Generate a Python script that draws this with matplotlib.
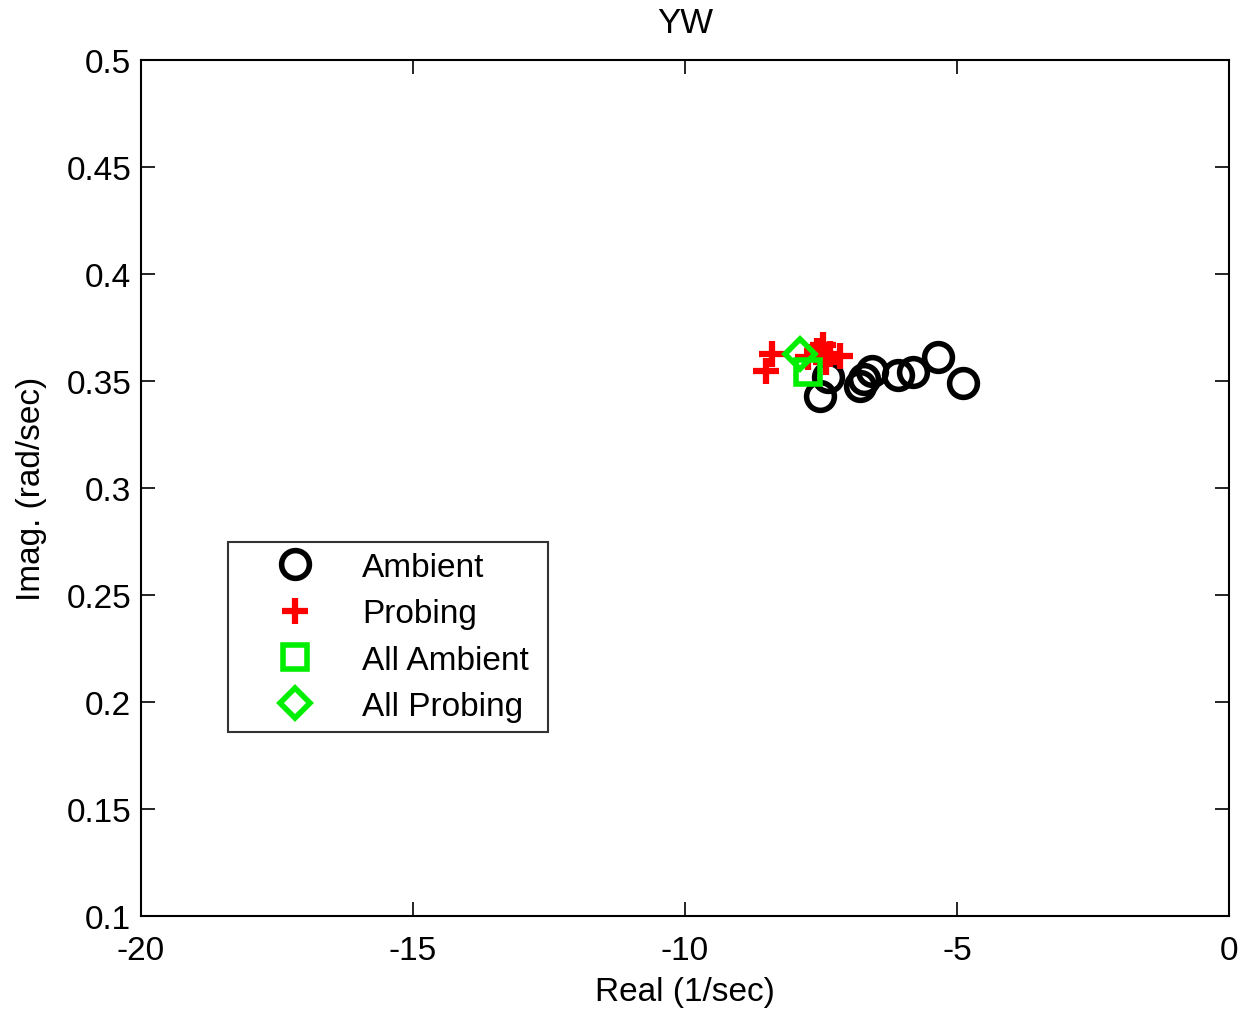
import matplotlib
matplotlib.use('Agg')
import matplotlib.pyplot as plt

plt.rcParams['font.family'] = ['Liberation Sans', 'DejaVu Sans']
plt.rcParams['axes.unicode_minus'] = False

# Ambient poles (real, imag)
amb_re = [-7.52, -7.37, -6.78, -6.71, -6.56, -6.08, -5.81, -5.35, -4.89]
amb_im = [0.343, 0.352, 0.3477, 0.351, 0.3547, 0.3528, 0.3542, 0.3612, 0.349]

# Probing poles
prb_re = [-8.40, -8.51, -7.57, -7.46, -7.33, -7.15, -7.74, -7.41]
prb_im = [0.3626, 0.3547, 0.364, 0.3668, 0.3626, 0.3617, 0.361, 0.359]

# combined estimates
all_amb = (-7.74, 0.354)
all_prb = (-7.89, 0.3626)

fig = plt.figure(figsize=(12.41, 10.12), dpi=100)
ax = fig.add_axes([0.1136, 0.0939, 0.8767, 0.8458])

ax.plot(amb_re, amb_im, 'o', color='black', mfc='none', ms=20, mew=4, label='Ambient', linestyle='none')
ax.plot(prb_re, prb_im, '+', color='red', ms=19, mew=4.5, label='Probing', linestyle='none')
ax.plot(all_amb[0], all_amb[1], 's', color='#00ee00', mfc='none', ms=17, mew=4, label='All Ambient', linestyle='none')
ax.plot(all_prb[0], all_prb[1], 'D', color='#00ee00', mfc='none', ms=15, mew=4, label='All Probing', linestyle='none')

ax.set_xlim(-20, 0)
ax.set_ylim(0.1, 0.5)
ax.set_xticks([-20, -15, -10, -5, 0])
ax.set_yticks([0.1, 0.15, 0.2, 0.25, 0.3, 0.35, 0.4, 0.45, 0.5])
ax.set_yticklabels(['0.1', '0.15', '0.2', '0.25', '0.3', '0.35', '0.4', '0.45', '0.5'])
ax.tick_params(direction='in', top=True, right=True, length=10, width=1.2, labelsize=24)
ax.tick_params(axis='x', pad=14)
ax.tick_params(axis='y', pad=7)
for s in ax.spines.values():
    s.set_linewidth(1.5)

ax.set_xlabel('Real (1/sec)', fontsize=24, labelpad=7)
ax.set_ylabel('Imag. (rad/sec)', fontsize=24, labelpad=14)
ax.set_title('YW', fontsize=25, pad=20)

leg = ax.legend(loc='lower left', bbox_to_anchor=(0.08, 0.215, 0.294, 0.224), mode='expand',
                fontsize=24, frameon=True, fancybox=False, edgecolor='black',
                handlelength=3.4, handletextpad=0.33, borderpad=0.3, labelspacing=0.46, borderaxespad=0)
leg.get_frame().set_linewidth(1.5)

fig.savefig('out.png', dpi=100)
